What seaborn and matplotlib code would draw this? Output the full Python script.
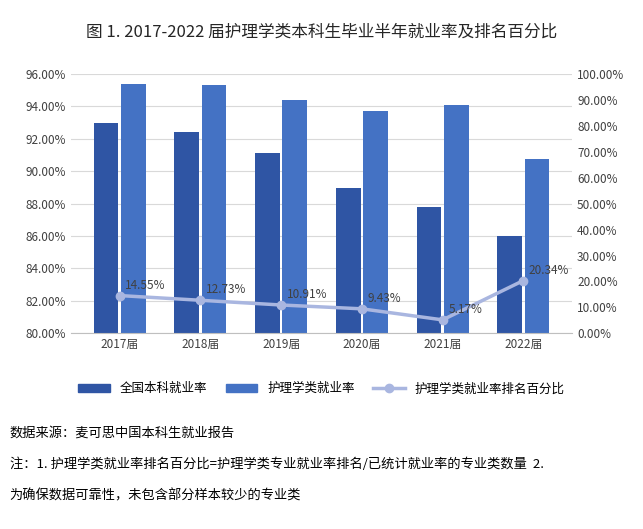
import numpy as np
import pandas as pd
import seaborn as sns
import matplotlib.pyplot as plt
from matplotlib.ticker import PercentFormatter

plt.rcParams['font.family'] = 'Noto Sans CJK SC'

years = ['2017届', '2018届', '2019届', '2020届', '2021届', '2022届']
national = [92.95, 92.45, 91.1, 88.95, 87.8, 86.0]
nursing = [95.4, 95.3, 94.4, 93.7, 94.1, 90.75]
rank_pct = [14.55, 12.73, 10.91, 9.43, 5.17, 20.34]

df = pd.DataFrame({'year': years * 2,
                   'rate': national + nursing,
                   'series': ['全国本科就业率'] * 6 + ['护理学类就业率'] * 6})

c_nat, c_nur, c_line = '#2f55a4', '#4472c4', '#a9b6e0'

fig = plt.figure(figsize=(6.43, 5.29), dpi=100)
ax = fig.add_axes([0.11, 0.37, 0.78, 0.49])
sns.barplot(data=df, x='year', y='rate', hue='series', ax=ax, saturation=1,
            palette=[c_nat, c_nur], width=0.68, gap=0.1, legend=False)
ax.set_ylim(80, 96)
ax.set_yticks(np.arange(80, 97, 2))
ax.yaxis.set_major_formatter(PercentFormatter(decimals=2))
ax.set_xlabel('')
ax.set_ylabel('')
ax.grid(axis='y', color='#d9d9d9', lw=0.8)
ax.set_axisbelow(True)
for s in ax.spines.values():
    s.set_visible(False)
ax.spines['bottom'].set_visible(True)
ax.spines['bottom'].set_color('#bfbfbf')
ax.tick_params(length=0, labelsize=8.5, colors='#404040')

ax2 = ax.twinx()
x = np.arange(len(years))
ax2.plot(x, rank_pct, color=c_line, lw=2.5, marker='o', ms=6)
ax2.set_ylim(0, 100)
ax2.set_yticks(np.arange(0, 101, 10))
ax2.yaxis.set_major_formatter(PercentFormatter(decimals=2))
for s in ax2.spines.values():
    s.set_visible(False)
ax2.tick_params(length=0, labelsize=8.5, colors='#404040')
for xi, v in zip(x, rank_pct):
    ax2.annotate(f'{v:.2f}%', (xi, v), xytext=(4, 5), textcoords='offset points',
                 fontsize=8.5, color='#404040')

handles = [plt.Rectangle((0, 0), 1, 1, color=c_nat),
           plt.Rectangle((0, 0), 1, 1, color=c_nur),
           plt.Line2D([], [], color=c_line, lw=2.5, marker='o')]
fig.legend(handles, ['全国本科就业率', '护理学类就业率', '护理学类就业率排名百分比'],
           loc='center', bbox_to_anchor=(0.5, 0.265), ncol=3, frameon=False,
           fontsize=9, handlelength=2.5, columnspacing=1.5)

fig.text(0.5, 0.94, '图 1. 2017-2022 届护理学类本科生毕业半年就业率及排名百分比',
         ha='center', va='center', fontsize=12, color='#262626')
fig.text(0.015, 0.175, '数据来源：麦可思中国本科生就业报告', fontsize=9.5, style='italic')
fig.text(0.015, 0.115, '注：1. 护理学类就业率排名百分比=护理学类专业就业率排名/已统计就业率的专业类数量  2.',
         fontsize=9.5, style='italic')
fig.text(0.015, 0.055, '为确保数据可靠性，未包含部分样本较少的专业类', fontsize=9.5, style='italic')

fig.savefig('out.png', dpi=100)
